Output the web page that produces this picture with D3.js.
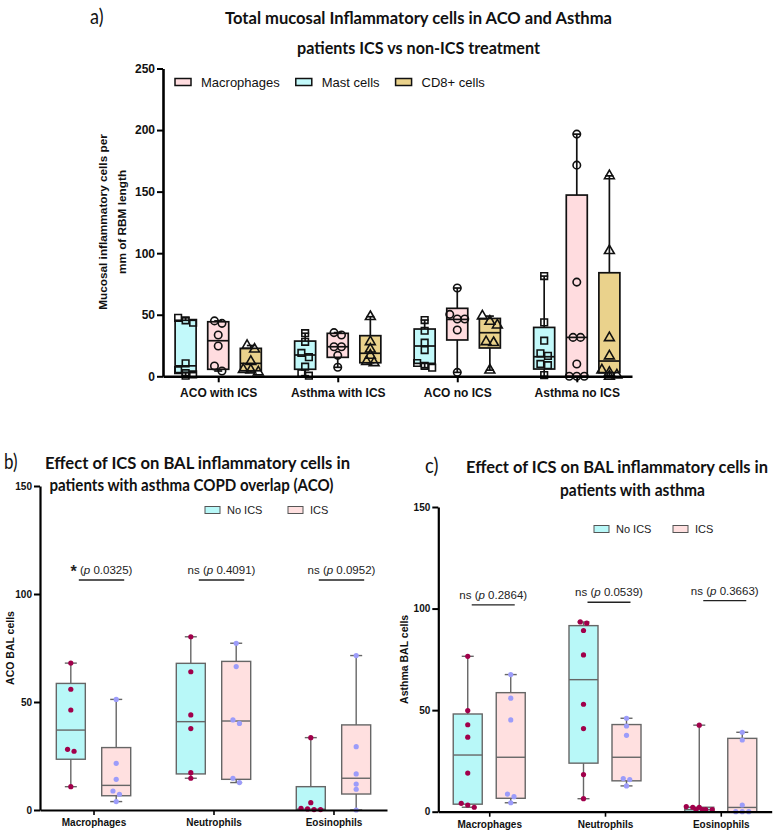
<!DOCTYPE html>
<html><head><meta charset="utf-8">
<script src="https://cdn.jsdelivr.net/npm/d3@7/dist/d3.min.js"></script>
<style>body{margin:0;background:#fff}svg{display:block}</style>
</head><body>
<svg id="chart" width="783" height="831"></svg>
<script>
// ================= DATA =================
// Panel a
const groupsA = ["ACO with ICS", "Asthma with ICS", "ACO no ICS", "Asthma no ICS"];
const seriesA = ["Mast cells", "Macrophages", "CD8+ cells"];      // order inside each group
const legendA = ["Macrophages", "Mast cells", "CD8+ cells"];      // legend order
const yTicksA = [0, 50, 100, 150, 200, 250];
// points per group
const mastPts  = [[0.5, 1.5, 2.5, 5, 10.5, 43.5, 45.5, 47.5],
                  [0.5, 2.5, 7.8, 15.5, 19, 28, 35],
                  [7, 8.5, 10.8, 21.3, 27.3, 37, 45.7],
                  [1, 9, 10, 16.6, 18.7, 28.9, 43.8, 81.4]];
const macroPts = [[4.3, 8.4, 24.6, 33.5, 43, 45],
                  [7.3, 17, 24, 24, 33.5, 35.5],
                  [3.2, 37.6, 46.5, 46.5, 50.3, 71.7],
                  [0, 0, 0, 10, 31.6, 31.6, 76.5, 171.5, 196.7]];
const cd8Pts   = [[3.5, 5, 5.5, 12, 22, 25],
                  [11, 12, 17, 22, 28, 48.4],
                  [5, 27.3, 28, 41.6, 44.6, 48.9],
                  [0, 1, 3, 5, 16.5, 31.3, 102, 162.8]];
// box stats per group: [min, Q1, median, Q3, max]
const mastBox  = [[0.5, 3, 8.5, 45.5, 47.5], [0.5, 5.7, 17.3, 28.6, 35], [7, 10.5, 24.6, 38.4, 45.7], [0, 5.9, 15.9, 39.7, 81.4]];
const macroBox = [[4.3, 5.7, 28.9, 44.3, 45], [7.3, 15.4, 24, 34.9, 35.5], [3.2, 29.5, 46.2, 55.2, 71.7], [0, 0, 31.6, 147.2, 196.7]];
const cd8Box   = [[3.5, 4.5, 10.5, 22.7, 25], [11, 11, 18.7, 33, 48.4], [5, 23, 35.4, 47, 48.9], [0, 3, 12.4, 84.1, 162.8]];

// Panels b and c
const groupsBC = ["Macrophages", "Neutrophils", "Eosinophils"];
const treatments = ["No ICS", "ICS"];
const yTicksBC = [0, 50, 100, 150];
// b) ACO
const bNoIcsPts = [[68, 55.9, 46.3, 28.1, 27.2, 10.8], [80.2, 64, 44, 37.7, 17.3, 14.7], [33.5, 3.4, 0.8, 0.2, 0.2, 0.5]];
const bIcsPts   = [[51.2, 21.6, 14.2, 8.8, 7.3, 3.9], [77.2, 66.4, 40.1, 41.7, 14.7, 12.7], [71.5, 29.3, 16.7, 12, 9.6, 0]];
const bNoIcsBox = [[10.8, 23.5, 37, 58.6, 68], [14.7, 16.7, 40.9, 67.9, 80.2], [0, 0, 0.4, 10.8, 33.5]];
const bIcsBox   = [[3.9, 6.6, 11.4, 28.9, 51.2], [12.7, 14.2, 41.2, 68.8, 77.2], [0, 7.4, 14.7, 39.4, 71.5]];
const bSigLabel = ["*", "ns", "ns"];
const bPValue   = ["0.0325", "0.4091", "0.0952"];
const bSigY     = [106.5, 106.5, 106.5];
// c) Asthma
const cNoIcsPts = [[76.5, 49.8, 42.8, 36.7, 19, 4.1, 3.3, 2.2], [93.4, 92.8, 89.2, 77.2, 52.9, 40.9, 18.3, 6.4], [42.6, 2.5, 2.2, 2.2, 1, 1, 1, 1]];
const cIcsPts   = [[67.5, 55.9, 45.2, 8.7, 7.4, 4.4], [46, 42.2, 37.6, 16.3, 15.8, 12.7], [39.1, 35.3, 3.3, 0, 0, 0]];
const cNoIcsBox = [[2.2, 3.7, 27.9, 48.1, 76.5], [6.4, 23.9, 65, 91.6, 93.4], [0, 0, 1, 2.2, 42.6]];
const cIcsBox   = [[4.4, 6.6, 26.8, 58.6, 67.5], [12.7, 15.2, 26.8, 42.9, 46], [0, 0, 2.1, 36.1, 39.1]];
const cSigLabel = ["ns", "ns", "ns"];
const cPValue   = ["0.2864", "0.0539", "0.3663"];
const cSigY     = [101.8, 103.1, 103.9];

// ================= STYLE =================
const FONT = "'Liberation Sans', Arial, sans-serif";
const TFONT = "Lato, 'Open Sans', sans-serif";
const colA = {"Macrophages": "#FFDCDF", "Mast cells": "#C2F9FA", "CD8+ cells": "#EAD28C"};
const symA = {"Macrophages": d3.symbolCircle, "Mast cells": d3.symbolSquare, "CD8+ cells": d3.symbolTriangle};
const colBox = {"No ICS": "#B8F8F8", "ICS": "#FFE0E0"};
const colPt = {"No ICS": "#A1004B", "ICS": "#9C9CFA"};

const svg = d3.select("#chart");

// condensed bold title lines (Calibri-like look), each fitted to the width measured on the reference
function titleBlock(lines, xs, y0, lh, widths, size) {
  lines.forEach((txt, i) => {
    svg.append("text").attr("x", xs[i]).attr("y", y0 + i * lh).attr("text-anchor", "middle")
      .attr("font-family", TFONT).attr("font-weight", "bold").attr("font-size", size)
      .attr("fill", "#111").attr("textLength", widths[i]).attr("lengthAdjust", "spacingAndGlyphs").text(txt);
  });
}
function panelLabel(text, x, y) {
  svg.append("text").attr("x", x).attr("y", y).attr("font-family", TFONT)
    .attr("font-size", 21).attr("fill", "#111").attr("textLength", 13.5)
    .attr("lengthAdjust", "spacingAndGlyphs").text(text);
}

// cluster-based horizontal spreading of points (beeswarm-like)
function spread(vals, y, cx, minD, step, maxRow) {
  const pts = vals.map(v => ({v, y: y(v)})).sort((a, b) => a.y - b.y);
  const clusters = [];
  pts.forEach(p => {
    const last = clusters[clusters.length - 1];
    if (last && p.y - last[last.length - 1].y < minD) last.push(p); else clusters.push([p]);
  });
  clusters.forEach(c => {
    for (let s = 0; s < c.length; s += maxRow) {
      const row = c.slice(s, s + maxRow);
      row.forEach((p, i) => p.x = cx + (i - (row.length - 1) / 2) * step);
    }
  });
  return pts;
}

function drawBox(g, cx, w, st, y, o) {
  const [mn, q1, md, q3, mx] = st;
  const line = (x1, y1, x2, y2, c) => g.append("line").attr("x1", x1).attr("y1", y1).attr("x2", x2).attr("y2", y2)
      .attr("stroke", c || o.stroke).attr("stroke-width", o.sw);
  line(cx, y(q3), cx, y(mx), o.whisk);
  line(cx, y(q1), cx, y(mn), o.whisk);
  line(cx - o.cap / 2, y(mx), cx + o.cap / 2, y(mx), o.whisk);
  line(cx - o.cap / 2, y(mn), cx + o.cap / 2, y(mn), o.whisk);
  g.append("rect").attr("x", cx - w / 2).attr("y", y(q3)).attr("width", w).attr("height", Math.max(0, y(q1) - y(q3)))
    .attr("fill", o.fill).attr("stroke", o.stroke).attr("stroke-width", o.sw);
  line(cx - w / 2, y(md), cx + w / 2, y(md), o.stroke);
}

function styleAxis(g, size, tickW, domW) {
  g.selectAll("path.domain").attr("stroke", "#000").attr("stroke-width", domW);
  g.selectAll(".tick line").attr("stroke", "#000").attr("stroke-width", tickW);
  g.selectAll("text").attr("fill", "#111").attr("font-family", FONT).attr("font-weight", "bold").attr("font-size", size);
}

// ================= PANEL A =================
panelLabel("a)", 90, 24);
titleBlock(["Total mucosal Inflammatory cells in ACO and Asthma", "patients ICS vs non-ICS treatment"],
  [418.5, 418.5], 24, 30, [387, 243], 17);

const xA = d3.scalePoint().domain(groupsA).range([163, 632]).padding(0.462);
const yA = d3.scaleLinear().domain([0, 250]).range([376.3, 68.5]);
const offA = d3.scalePoint().domain(seriesA).range([-32.6, 32.6]);
const ptsA = {"Mast cells": mastPts, "Macrophages": macroPts, "CD8+ cells": cd8Pts};
const boxA = {"Mast cells": mastBox, "Macrophages": macroBox, "CD8+ cells": cd8Box};

const gA = svg.append("g");
groupsA.forEach((grp, gi) => {
  seriesA.forEach(s => {
    const cx = xA(grp) + offA(s);
    drawBox(gA, cx, 21, boxA[s][gi], yA, {fill: colA[s], stroke: "#111", whisk: "#111", sw: 1.7, cap: 8});
    const pts = spread(ptsA[s][gi], yA, cx, 6, 7.5, 3);
    gA.selectAll(null).data(pts).enter().append("path")
      .attr("d", d3.symbol().type(symA[s]).size(s === "CD8+ cells" ? 42 : 44))
      .attr("transform", d => `translate(${d.x},${d.y})`)
      .attr("fill", "none").attr("stroke", "#111").attr("stroke-width", 1.6);
  });
});
const axYA = svg.append("g").attr("transform", "translate(163,0)")
  .call(d3.axisLeft(yA).tickValues(yTicksA).tickSize(6).tickPadding(2).tickSizeOuter(0));
styleAxis(axYA, 12, 2, 2.6);
const axXA = svg.append("g").attr("transform", "translate(0,376.3)")
  .call(d3.axisBottom(xA).tickSize(6).tickPadding(6).tickSizeOuter(0));
styleAxis(axXA, 12, 2, 2.6);
svg.append("text").attr("transform", "translate(107,222) rotate(-90)").attr("text-anchor", "middle")
  .attr("font-family", FONT).attr("font-weight", "bold").attr("font-size", 11.8).attr("fill", "#111")
  .selectAll("tspan").data(["Mucosal inflammatory cells per", "mm of RBM length"]).enter().append("tspan")
  .attr("x", 0).attr("dy", (d, i) => i ? 18.7 : 0).text(d => d);
// legend a
let lx = 175;
legendA.forEach(s => {
  svg.append("rect").attr("x", lx).attr("y", 78.5).attr("width", 16).attr("height", 7)
    .attr("fill", colA[s]).attr("stroke", "#111").attr("stroke-width", 1.5);
  const t = svg.append("text").attr("x", lx + 26).attr("y", 86.5).attr("font-family", FONT)
    .attr("font-size", 13).attr("fill", "#111").text(s);
  lx = lx + 26 + t.node().getComputedTextLength() + 16;
});

// ================= PANELS B & C =================
function panelBC(cfg) {
  const x = d3.scalePoint().domain(groupsBC).range(cfg.xr).padding(cfg.pad);
  const y = d3.scaleLinear().domain([0, 150]).range(cfg.yr);
  const off = d3.scalePoint().domain(treatments).range([-cfg.off, cfg.off]);
  const g = svg.append("g");
  const pts = {"No ICS": cfg.noPts, "ICS": cfg.icsPts};
  const box = {"No ICS": cfg.noBox, "ICS": cfg.icsBox};
  groupsBC.forEach((grp, gi) => {
    treatments.forEach(t => {
      const cx = x(grp) + off(t);
      drawBox(g, cx, 29, box[t][gi], y, {fill: colBox[t], stroke: "#666", whisk: "#666", sw: 1.4, cap: 12});
      const p = spread(pts[t][gi], y, cx, 5, 6.5, 5);
      g.selectAll(null).data(p).enter().append("circle")
        .attr("cx", d => d.x).attr("cy", d => d.y).attr("r", 2.6).attr("fill", colPt[t]);
    });
    // significance
    const x1 = x(grp) + off("No ICS") + cfg.sigOff, x2 = x(grp) + off("ICS") + cfg.sigOff;
    const yy = y(cfg.sigY[gi]);
    g.append("line").attr("x1", x1).attr("x2", x2).attr("y1", yy).attr("y2", yy)
      .attr("stroke", "#222").attr("stroke-width", 1.4);
    const tx = g.append("text").attr("x", (x1 + x2) / 2).attr("y", yy - 6).attr("text-anchor", "middle")
      .attr("font-family", FONT).attr("font-size", 11.5).attr("fill", "#222");
    if (cfg.sigLabel[gi] === "*") {
      tx.append("tspan").attr("font-size", 16).attr("font-weight", "bold").attr("dy", 3).text("*");
      tx.append("tspan").attr("dy", -3).text(" (");
    } else {
      tx.append("tspan").text(cfg.sigLabel[gi] + " (");
    }
    tx.append("tspan").attr("font-style", "italic").text("p");
    tx.append("tspan").text(" " + cfg.p[gi] + ")");
  });
  const ay = svg.append("g").attr("transform", `translate(${cfg.xr[0]},0)`)
    .call(d3.axisLeft(y).tickValues(yTicksBC).tickSize(6).tickPadding(2).tickSizeOuter(0));
  styleAxis(ay, 10, 2, 2.2);
  const ax = svg.append("g").attr("transform", `translate(0,${cfg.yr[0]})`)
    .call(d3.axisBottom(x).tickSize(5).tickPadding(4).tickSizeOuter(0));
  styleAxis(ax, 10, 1.6, 2.2);
  svg.append("text").attr("transform", `translate(${cfg.ylx},${(cfg.yr[0] + cfg.yr[1]) / 2}) rotate(-90)`)
    .attr("text-anchor", "middle").attr("font-family", FONT).attr("font-weight", "bold")
    .attr("font-size", 10.5).attr("fill", "#111").text(cfg.ylabel);
  // legend
  treatments.forEach((t, i) => {
    const sx = cfg.legX + i * cfg.legGap;
    svg.append("rect").attr("x", sx).attr("y", cfg.legY - 3.5).attr("width", 15).attr("height", 7)
      .attr("fill", colBox[t]).attr("stroke", "#555").attr("stroke-width", 1);
    svg.append("text").attr("x", sx + 22).attr("y", cfg.legY + 4).attr("font-family", FONT)
      .attr("font-size", 11).attr("fill", "#222").text(t);
  });
}

panelLabel("b)", 4, 469);
titleBlock(["Effect of ICS on BAL inflammatory cells in", "patients with asthma COPD overlap (ACO)"],
  [197.5, 191.5], 469, 22, [305, 284], 17);
panelBC({xr: [40, 387], pad: 0.446, yr: [810, 486], off: 22.7, noPts: bNoIcsPts, icsPts: bIcsPts,
  noBox: bNoIcsBox, icsBox: bIcsBox, sigLabel: bSigLabel, p: bPValue, sigY: bSigY, sigOff: 8,
  ylabel: "ACO BAL cells", ylx: 14, legX: 205, legGap: 83, legY: 510});

panelLabel("c)", 425, 473);
titleBlock(["Effect of ICS on BAL inflammatory cells in", "patients with asthma"],
  [617, 632.5], 473, 23, [302, 145], 17);
panelBC({xr: [438.3, 771.7], pad: 0.44, yr: [811.7, 507], off: 21.5, noPts: cNoIcsPts, icsPts: cIcsPts,
  noBox: cNoIcsBox, icsBox: cIcsBox, sigLabel: cSigLabel, p: cPValue, sigY: cSigY, sigOff: 4,
  ylabel: "Asthma BAL cells", ylx: 408, legX: 594, legGap: 79, legY: 529});
</script>
</body></html>
